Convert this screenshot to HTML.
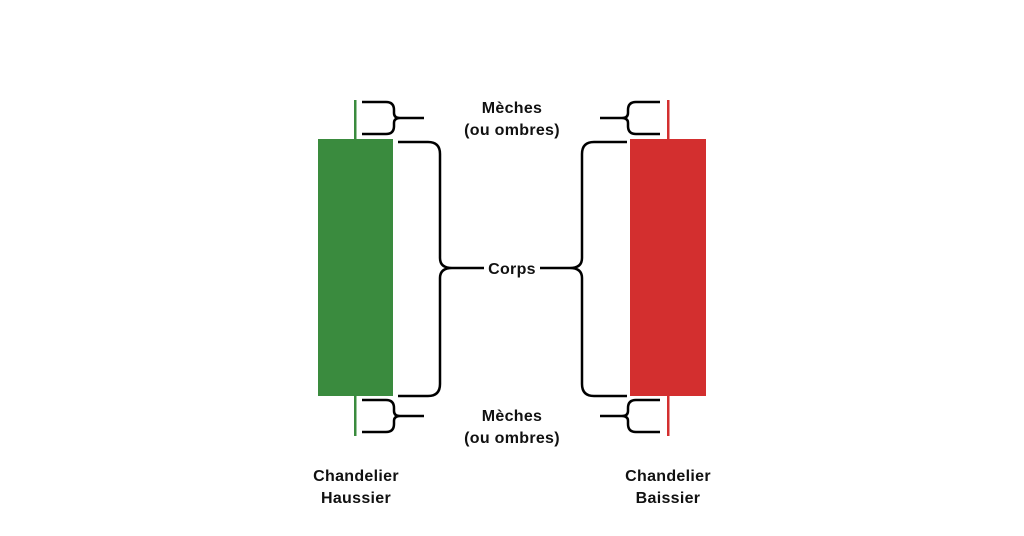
<!DOCTYPE html>
<html><head><meta charset="utf-8"><style>
html,body{margin:0;padding:0;background:#fff;}
svg{display:block}
text{font-family:"Liberation Sans",sans-serif;font-weight:bold;font-size:16px;letter-spacing:0.3px;fill:#111;text-anchor:middle}
</style></head><body>
<svg width="1024" height="536" viewBox="0 0 1024 536">
<rect x="318" y="139" width="75" height="257" fill="#3a8b3e"/>
<rect x="354" y="100" width="2.5" height="39" fill="#3a8b3e"/>
<rect x="354" y="396" width="2.5" height="40" fill="#3a8b3e"/>
<rect x="630" y="139" width="76" height="257" fill="#d32f2f"/>
<rect x="667" y="100" width="2.5" height="39" fill="#d32f2f"/>
<rect x="667" y="396" width="2.5" height="40" fill="#d32f2f"/>
<g fill="none" stroke="#000" stroke-width="2.5">
<path d="M362 102 H386 Q394 102 394 110 V113 Q394 118 400 118 H424 M400 118 Q394 118 394 123 V126 Q394 134 386 134 H362"/>
<path d="M362 400 H386 Q394 400 394 408 V411 Q394 416 400 416 H424 M400 416 Q394 416 394 421 V424 Q394 432 386 432 H362"/>
<path d="M398 142 H428 Q440 142 440 154 V258 Q440 268 452 268 H484 M452 268 Q440 268 440 278 V384 Q440 396 428 396 H398"/>
<path d="M660 102 H636 Q628 102 628 110 V113 Q628 118 622 118 H600 M622 118 Q628 118 628 123 V126 Q628 134 636 134 H660"/>
<path d="M660 400 H636 Q628 400 628 408 V411 Q628 416 622 416 H600 M622 416 Q628 416 628 421 V424 Q628 432 636 432 H660"/>
<path d="M627 142 H594 Q582 142 582 154 V258 Q582 268 570 268 H540 M570 268 Q582 268 582 278 V384 Q582 396 594 396 H627"/>
</g>
<text x="512" y="113">Mèches</text>
<text x="512" y="135">(ou ombres)</text>
<text x="512" y="274">Corps</text>
<text x="512" y="421">Mèches</text>
<text x="512" y="443">(ou ombres)</text>
<text x="356" y="481">Chandelier</text>
<text x="356" y="503">Haussier</text>
<text x="668" y="481">Chandelier</text>
<text x="668" y="503">Baissier</text>
</svg>
</body></html>
